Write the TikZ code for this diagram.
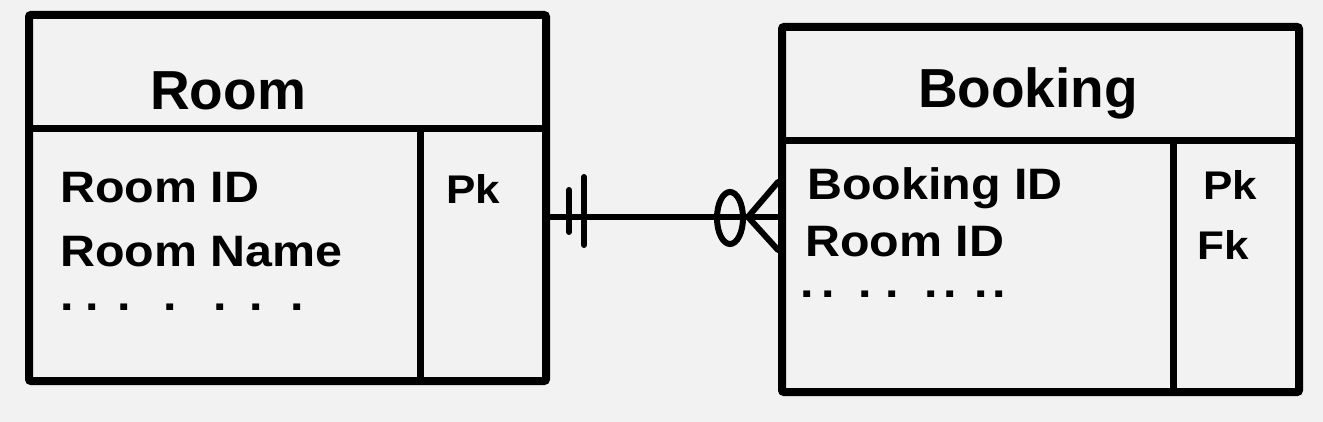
\documentclass[tikz,border=0pt]{standalone}
\usepackage{fontspec}
\setmainfont{Liberation Sans}
\newfontfamily\hand[FakeStretch=1.1]{Liberation Sans}
\definecolor{bg}{HTML}{F2F2F2}
\begin{document}
\begin{tikzpicture}[x=1pt,y=-1pt,
  entity/.style={draw=black, fill=bg, line width=8pt, rectangle, rounded corners=2pt, inner sep=0pt},
  divider/.style={draw=black, line width=7pt},
  link/.style={draw=black, line width=6pt, line cap=round},
  title/.style={anchor=base, inner sep=0pt, font=\bfseries\fontsize{55}{60}\selectfont},
  attr/.style={anchor=base west, inner sep=0pt, font=\hand\bfseries\fontsize{44}{48}\selectfont},
  keylbl/.style={anchor=base west, inner sep=0pt, font=\hand\bfseries\fontsize{40}{44}\selectfont}]
\fill[bg] (0,0) rectangle (1323,422);
\useasboundingbox (0,0) rectangle (1323,422);
% entities
\node[entity, minimum width=517pt, minimum height=366pt] (room) at (287.5,198) {};
\node[entity, minimum width=517pt, minimum height=365pt] (booking) at (1040.5,209.5) {};
% room dividers
\coordinate (rh) at (0,129);
\coordinate (rv) at (420,0);
\draw[divider] (room.west |- rh) -- (room.east |- rh);
\draw[divider] (rv |- rh) -- (rv |- room.south);
% booking dividers
\coordinate (bh) at (0,141);
\coordinate (bv) at (1173.5,0);
\draw[divider] (booking.west |- bh) -- (booking.east |- bh);
\draw[divider] (bv |- bh) -- (bv |- booking.south);
% titles
\node[title] (roomtitle) at (228,110) {Room};
\node[title] (bookingtitle) at (1028,108) {Booking};
% room attributes
\node[attr] (rid) at (60,203) {Room ID};
\node[attr] (rname) at (60,266) {Room Name};
\node[attr] (rdots) at (60,310) {.\hspace{12pt}.\hspace{18pt}.\hspace{33pt}.\hspace{36pt}.\hspace{23pt}.\hspace{28pt}.};
\node[keylbl] (rpk) at (446,204) {Pk};
% booking attributes
\node[attr] (bid) at (807,200) {Booking ID};
\node[attr] (brid) at (805,257) {Room ID};
\node[attr] (bdots) at (800,298) {.\hspace{8pt}.\hspace{23pt}.\hspace{14pt}.\hspace{25pt}.\hspace{6pt}.\hspace{18pt}.\hspace{4pt}.};
\node[keylbl] (bpk) at (1203,200) {Pk};
\node[keylbl] (bfk) at (1197,259) {Fk};
% relationship
\coordinate (ly) at (0,217);
\coordinate (apex) at (748,217);
\draw[link, line cap=butt] (room.east |- ly) -- (booking.west |- ly);
\draw[link] (569,190) -- (569,232);
\draw[link] (584,177) -- (584,245);
\draw[link] (730,218) ellipse [x radius=13, y radius=26];
\draw[link] (apex) -- (booking.west |- 0,182);
\draw[link] (apex) -- (booking.west |- 0,250);
\end{tikzpicture}
\end{document}
